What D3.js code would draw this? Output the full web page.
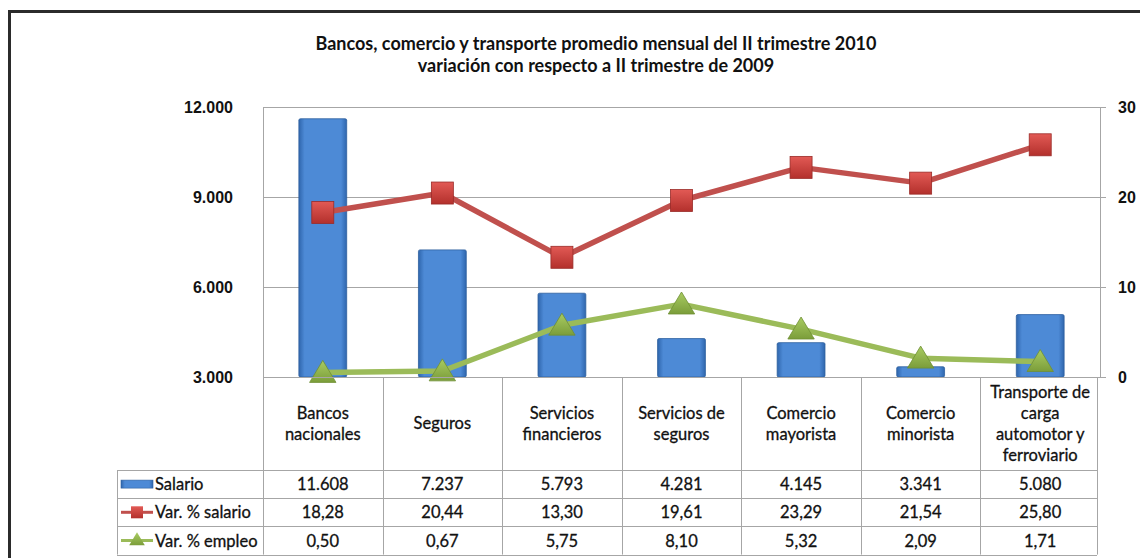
<!DOCTYPE html>
<html>
<head>
<meta charset="utf-8">
<script src="https://cdn.jsdelivr.net/npm/d3@7"></script>
<style>
  body { margin: 0; background: #fff; }
  svg { display: block; font-family: Lato, "Open Sans", sans-serif; }
  .axis text { font-size: 16px; font-weight: bold; fill: #111; }
  .cell { font-size: 16.5px; fill: #111; stroke: #111; stroke-width: 0.3px; }
</style>
</head>
<body>
<svg id="chart"></svg>
<script>
// Data
const categories = [
  ['Bancos', 'nacionales'],
  ['Seguros'],
  ['Servicios', 'financieros'],
  ['Servicios de', 'seguros'],
  ['Comercio', 'mayorista'],
  ['Comercio', 'minorista'],
  ['Transporte de', 'carga', 'automotor y', 'ferroviario']
];
const salario = [11608, 7237, 5793, 4281, 4145, 3341, 5080];
const varSalario = [18.28, 20.44, 13.30, 19.61, 23.29, 21.54, 25.80];
const varEmpleo = [0.50, 0.67, 5.75, 8.10, 5.32, 2.09, 1.71];
const leftTicks = [3000, 6000, 9000, 12000];
const rightTicks = [0, 10, 20, 30];
const seriesNames = ['Salario', 'Var. % salario', 'Var. % empleo'];
const titleLines = [
  'Bancos, comercio y transporte promedio mensual del II trimestre 2010',
  'variación con respecto a II trimestre de 2009'
];

const width = 1140, height = 558;
const plot = { left: 263, right: 1100, top: 107, bottom: 377 };
const table = { labelLeft: 117, headerBottom: 470, rowH: 28.2 };

const es = d3.formatLocale({ decimal: ',', thousands: '.', grouping: [3], currency: ['', ''] });
const fmtInt = es.format(',d');
const fmtDec = es.format(',.2f');

const svg = d3.select('#chart').attr('width', width).attr('height', height);

// Gradients for the bevelled Excel look
const defs = svg.append('defs');
const barGrad = defs.append('linearGradient').attr('id', 'barGrad')
  .attr('x1', 0).attr('x2', 1).attr('y1', 0).attr('y2', 0);
barGrad.append('stop').attr('offset', '0%').attr('stop-color', '#2f66ad');
barGrad.append('stop').attr('offset', '12%').attr('stop-color', '#4d8ad6');
barGrad.append('stop').attr('offset', '88%').attr('stop-color', '#4d8ad6');
barGrad.append('stop').attr('offset', '100%').attr('stop-color', '#2f66ad');
const redGrad = defs.append('linearGradient').attr('id', 'redGrad')
  .attr('x1', 0).attr('x2', 0).attr('y1', 0).attr('y2', 1);
redGrad.append('stop').attr('offset', '0%').attr('stop-color', '#e25a55');
redGrad.append('stop').attr('offset', '100%').attr('stop-color', '#b3302c');
const greenGrad = defs.append('linearGradient').attr('id', 'greenGrad')
  .attr('x1', 0).attr('x2', 0).attr('y1', 0).attr('y2', 1);
greenGrad.append('stop').attr('offset', '0%').attr('stop-color', '#a9cc62');
greenGrad.append('stop').attr('offset', '100%').attr('stop-color', '#7b9d3a');

// Outer frame (runs off the right and bottom edges)
svg.append('rect')
  .attr('x', 9.5).attr('y', 11.5)
  .attr('width', width + 20).attr('height', height + 20)
  .attr('fill', 'none').attr('stroke', '#2b2b2b').attr('stroke-width', 3);

// Title
svg.append('g').selectAll('text')
  .data(titleLines)
  .join('text')
  .attr('x', 596)
  .attr('y', (d, i) => 50 + i * 22)
  .attr('text-anchor', 'middle')
  .style('font-size', '18px')
  .style('font-weight', 'bold')
  .style('fill', '#111')
  .text(d => d);

// Scales
const x = d3.scaleBand().domain(d3.range(categories.length)).range([plot.left, plot.right]);
const yL = d3.scaleLinear().domain([3000, 12000]).range([plot.bottom, plot.top]);
const yR = d3.scaleLinear().domain([0, 30]).range([plot.bottom, plot.top]);
const cx = i => x(i) + x.bandwidth() / 2;

// Grid lines
svg.append('g')
  .attr('transform', `translate(${plot.left},0)`)
  .call(d3.axisLeft(yL).tickValues(leftTicks).tickSize(-(plot.right - plot.left)).tickFormat(''))
  .call(g => g.select('.domain').remove())
  .call(g => g.selectAll('line').attr('stroke', '#a6a6a6'));

// Plot border left
svg.append('line')
  .attr('x1', plot.left + 0.5).attr('x2', plot.left + 0.5)
  .attr('y1', plot.top).attr('y2', plot.bottom)
  .attr('stroke', '#a6a6a6');

// Left axis labels
svg.append('g').attr('class', 'axis')
  .attr('transform', `translate(${plot.left},0)`)
  .call(d3.axisLeft(yL).tickValues(leftTicks).tickSize(0).tickPadding(30).tickFormat(fmtInt))
  .call(g => g.select('.domain').remove());

// Right axis
svg.append('g').attr('class', 'axis')
  .attr('transform', `translate(${plot.right},0)`)
  .call(d3.axisRight(yR).tickValues(rightTicks).tickSize(6).tickPadding(12).tickSizeOuter(0))
  .call(g => g.select('.domain').attr('stroke', '#a6a6a6'))
  .call(g => g.selectAll('line').attr('stroke', '#a6a6a6'));

// Bars
const barW = x.bandwidth() * 0.4;
svg.append('g').selectAll('rect')
  .data(salario)
  .join('rect')
  .attr('x', (d, i) => cx(i) - barW / 2)
  .attr('y', d => yL(d))
  .attr('width', barW)
  .attr('height', d => plot.bottom - yL(d))
  .attr('rx', 1.5)
  .attr('fill', 'url(#barGrad)')
  .attr('stroke', '#2d5f9e')
  .attr('stroke-width', 0.8);

// Lines
const line = y => d3.line().x((d, i) => cx(i)).y(d => y(d));
svg.append('path').datum(varSalario)
  .attr('d', line(yR))
  .attr('fill', 'none').attr('stroke', '#c0504d').attr('stroke-width', 5.5)
  .attr('stroke-linejoin', 'round');
svg.append('path').datum(varEmpleo)
  .attr('d', line(yR))
  .attr('fill', 'none').attr('stroke', '#9bbb59').attr('stroke-width', 5.5)
  .attr('stroke-linejoin', 'round');

// Markers
const sq = 22;
svg.append('g').selectAll('rect')
  .data(varSalario)
  .join('rect')
  .attr('x', (d, i) => cx(i) - sq / 2)
  .attr('y', d => yR(d) - sq / 2)
  .attr('width', sq).attr('height', sq)
  .attr('fill', 'url(#redGrad)')
  .attr('stroke', '#9a2b28').attr('stroke-width', 0.8);

const tri = (px, py, s) => `M${px},${py - s * 0.55}L${px + s * 0.6},${py + s * 0.45}L${px - s * 0.6},${py + s * 0.45}Z`;
svg.append('g').selectAll('path')
  .data(varEmpleo)
  .join('path')
  .attr('d', (d, i) => tri(cx(i), yR(d), 22))
  .attr('fill', 'url(#greenGrad)')
  .attr('stroke', '#6f8f34').attr('stroke-width', 0.8);

// Data table
const gridColor = '#a6a6a6';
const tableBottom = table.headerBottom + table.rowH * 3;
const tg = svg.append('g');

// plot bottom / table top
tg.append('line')
  .attr('x1', plot.left).attr('x2', plot.right)
  .attr('y1', plot.bottom + 0.5).attr('y2', plot.bottom + 0.5)
  .attr('stroke', gridColor);

// vertical column lines
tg.selectAll('.vline')
  .data(d3.range(categories.length + 1))
  .join('line')
  .attr('class', 'vline')
  .attr('x1', i => Math.round(i < categories.length ? x(i) : plot.right - 3) + 0.5)
  .attr('x2', i => Math.round(i < categories.length ? x(i) : plot.right - 3) + 0.5)
  .attr('y1', plot.bottom).attr('y2', tableBottom)
  .attr('stroke', gridColor);

// left edge of legend column
tg.append('line')
  .attr('x1', table.labelLeft + 0.5).attr('x2', table.labelLeft + 0.5)
  .attr('y1', table.headerBottom).attr('y2', tableBottom)
  .attr('stroke', gridColor);

// horizontal row lines
tg.selectAll('.hline')
  .data(d3.range(4))
  .join('line')
  .attr('class', 'hline')
  .attr('x1', table.labelLeft).attr('x2', plot.right - 3)
  .attr('y1', i => Math.round(table.headerBottom + i * table.rowH) + 0.5)
  .attr('y2', i => Math.round(table.headerBottom + i * table.rowH) + 0.5)
  .attr('stroke', gridColor);

// category header labels
const headerMid = (plot.bottom + table.headerBottom) / 2;
tg.selectAll('.cat')
  .data(categories)
  .join('text')
  .attr('class', 'cell cat')
  .attr('text-anchor', 'middle')
  .attr('x', (d, i) => cx(i))
  .attr('y', d => headerMid - (d.length - 1) * 10.5 + 5.5)
  .selectAll('tspan')
  .data(d => d)
  .join('tspan')
  .attr('x', function () { return d3.select(this.parentNode).attr('x'); })
  .attr('dy', (d, j) => j === 0 ? 0 : 21)
  .text(d => d);

// value rows
const rows = [salario.map(fmtInt), varSalario.map(fmtDec), varEmpleo.map(fmtDec)];
rows.forEach((vals, r) => {
  const yMid = table.headerBottom + table.rowH * (r + 0.5);
  tg.selectAll('.v' + r)
    .data(vals)
    .join('text')
    .attr('class', 'cell v' + r)
    .attr('text-anchor', 'middle')
    .attr('x', (d, i) => cx(i))
    .attr('y', yMid + 6)
    .text(d => d);

  // legend name
  tg.append('text')
    .attr('class', 'cell')
    .attr('x', 155)
    .attr('y', yMid + 6)
    .text(seriesNames[r]);
});

// legend keys
const k0 = table.headerBottom + table.rowH * 0.5;
tg.append('rect')
  .attr('x', 121).attr('y', k0 - 4).attr('width', 32).attr('height', 8)
  .attr('fill', 'url(#barGrad)').attr('stroke', '#2d5f9e').attr('stroke-width', 0.6);
const k1 = table.headerBottom + table.rowH * 1.5;
tg.append('line').attr('x1', 121).attr('x2', 153).attr('y1', k1).attr('y2', k1)
  .attr('stroke', '#c0504d').attr('stroke-width', 3);
tg.append('rect').attr('x', 131).attr('y', k1 - 6).attr('width', 12).attr('height', 12)
  .attr('fill', 'url(#redGrad)');
const k2 = table.headerBottom + table.rowH * 2.5;
tg.append('line').attr('x1', 121).attr('x2', 153).attr('y1', k2).attr('y2', k2)
  .attr('stroke', '#9bbb59').attr('stroke-width', 3);
tg.append('path').attr('d', tri(137, k2 - 1, 13)).attr('fill', 'url(#greenGrad)');
</script>
</body>
</html>
